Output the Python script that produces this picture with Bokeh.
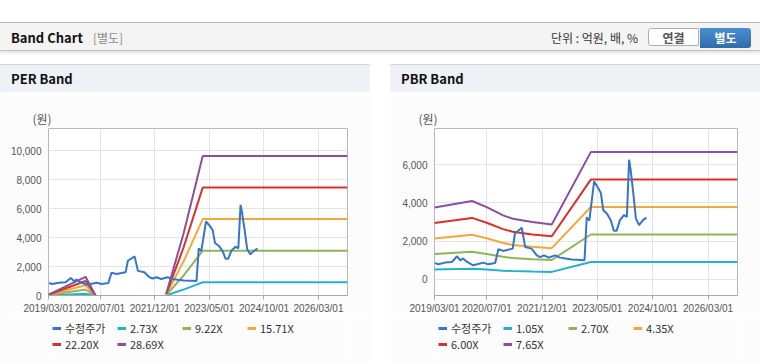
import pandas as pd
import numpy as np
from bokeh.plotting import figure
from bokeh.models import (Div, Legend, LegendItem, FixedTicker, DatetimeTickFormatter,
                          NumeralTickFormatter, Range1d, Title, Spacer)
from bokeh.layouts import column, row
from bokeh.embed import file_html
from bokeh.resources import INLINE

# ---------------- data ----------------
price_dates = ["2019-03-07", "2019-04-07", "2019-06-07", "2019-08-10", "2019-09-28", "2019-10-28",
               "2019-11-21", "2019-12-28", "2020-02-25", "2020-04-01", "2020-06-01", "2020-07-15",
               "2020-09-18", "2020-10-18", "2020-12-03", "2021-03-01", "2021-03-22", "2021-05-25",
               "2021-06-25", "2021-08-25", "2021-10-12", "2021-11-12", "2021-12-18", "2022-02-01",
               "2022-04-01", "2022-05-18", "2022-07-06", "2022-09-06", "2023-01-01", "2023-01-22",
               "2023-02-15", "2023-04-01", "2023-05-10", "2023-06-03", "2023-06-25", "2023-08-01",
               "2023-09-03", "2023-10-03", "2023-10-28", "2023-11-28", "2024-01-06", "2024-02-01",
               "2024-02-22", "2024-03-07", "2024-04-01", "2024-04-25", "2024-05-25", "2024-07-01",
               "2024-08-01"]
price_values = [860, 790, 880, 910, 1210, 1000,
                1090, 930, 740, 790, 880, 790,
                860, 1580, 1490, 1610, 2400, 2700,
                1700, 1610, 1260, 1170, 1260, 1140,
                1260, 1140, 1090, 1040, 1000, 3250,
                3070, 5120, 4770, 4510, 3630, 3420,
                3100, 2540, 2540, 3100, 3370, 3260,
                6260, 5740, 4510, 3190, 2840, 3100,
                3230]

# PER band: EPS (NaN = no band)
per_dates = ["2019-03-01", "2020-02-15", "2020-05-20", "2020-06-01",
             "2022-03-20", "2022-09-01", "2023-01-01", "2023-03-01", "2026-12-01"]
per_eps = [2, 45, 0, np.nan, 4, 150, 275, 336, 336]
per_multiples = [2.73, 9.22, 15.71, 22.20, 28.69]
per_labels = ["2.73X", "9.22X", "15.71X", "22.20X", "28.69X"]

# PBR band: BPS
pbr_dates = ["2019-03-01", "2020-02-15", "2020-07-01", "2020-12-01", "2021-03-01",
             "2021-09-01", "2022-03-01", "2023-03-01", "2026-12-01"]
pbr_bps = [492, 536, 494, 438, 415, 392, 376, 870, 870]
pbr_multiples = [1.05, 2.70, 4.35, 6.00, 7.65]
pbr_labels = ["1.05X", "2.70X", "4.35X", "6.00X", "7.65X"]

price_label = "수정주가"
x_tick_labels = ["2019/03/01", "2020/07/01", "2021/12/01", "2023/05/01", "2024/10/01", "2026/03/01"]
x_start, x_end = "2019-03-01", "2026-12-01"
per_y_ticks = [0, 2000, 4000, 6000, 8000, 10000]
pbr_y_ticks = [0, 2000, 4000, 6000]

price_color = "#3775c8"
band_colors = ["#23b3c8", "#8fb55a", "#f4a83a", "#d8302a", "#8d4f9c"]

NUM_FONT = "Liberation Sans"
KR_FONT = "Noto Sans CJK KR"
BODY_BG = "#fcfcfc"


def make_chart(base_dates, base_vals, mults, y_ticks, y_lo, y_hi, border_left):
    p = figure(width=370, height=225, x_axis_type="datetime", output_backend="svg",
               toolbar_location=None,
               x_range=Range1d(pd.Timestamp(x_start), pd.Timestamp(x_end)),
               y_range=Range1d(y_lo, y_hi),
               min_border_left=border_left, min_border_right=23, min_border_top=35,
               min_border_bottom=23,
               background_fill_color="#ffffff", border_fill_color=BODY_BG,
               outline_line_color="#b8b8b8")
    p.title = Title(text="(원)", align="left", offset=-16, standoff=3,
                    text_font=KR_FONT, text_font_size="12px", text_font_style="normal",
                    text_color="#555555")

    bd = pd.to_datetime(base_dates)
    base = np.array(base_vals, dtype=float)
    for m, col in zip(mults, band_colors):
        p.line(bd, base * m, line_color=col, line_width=2)
    p.line(pd.to_datetime(price_dates), price_values, line_color=price_color, line_width=2)

    ticks = [int(t.value // 10**6) for t in pd.to_datetime(x_tick_labels, format="%Y/%m/%d")]
    p.xaxis.ticker = FixedTicker(ticks=ticks)
    p.xaxis.formatter = DatetimeTickFormatter(days="%Y/%m/%d", months="%Y/%m/%d",
                                              years="%Y/%m/%d")
    p.yaxis.ticker = FixedTicker(ticks=y_ticks)
    p.yaxis.formatter = NumeralTickFormatter(format="0,0")

    p.xaxis.axis_line_color = "#a8a8a8"
    p.xaxis.major_tick_line_color = "#a8a8a8"
    p.xaxis.major_tick_out = 4
    p.xaxis.major_tick_in = 0
    p.xaxis.minor_tick_line_color = None
    p.xaxis.major_label_standoff = 3
    p.xaxis.major_label_text_font = NUM_FONT
    p.xaxis.major_label_text_font_size = "10px"
    p.xaxis.major_label_text_color = "#555555"

    p.yaxis.axis_line_color = None
    p.yaxis.major_tick_line_color = None
    p.yaxis.minor_tick_line_color = None
    p.yaxis.major_tick_out = 0
    p.yaxis.major_tick_in = 0
    p.yaxis.major_label_standoff = 7
    p.yaxis.major_label_text_font = NUM_FONT
    p.yaxis.major_label_text_font_size = "10px"
    p.yaxis.major_label_text_color = "#555555"

    p.xgrid.grid_line_color = "#e4e4e4"
    p.ygrid.grid_line_color = "#e4e4e4"
    return p


def make_legend_fig(labels):
    lf = figure(width=370, height=44, output_backend="svg", toolbar_location=None,
                x_axis_location=None, y_axis_location=None,
                x_range=Range1d(0, 1), y_range=Range1d(0, 1),
                min_border=0, outline_line_color=None,
                background_fill_color=BODY_BG, border_fill_color=BODY_BG)
    lf.grid.visible = False
    items = []
    # legend keys only: no visible points
    r = lf.line(x=[np.nan], y=[np.nan], line_color=price_color, line_width=3)
    items.append(LegendItem(label=price_label, renderers=[r]))
    for lab, col in zip(labels, band_colors):
        r = lf.line(x=[np.nan], y=[np.nan], line_color=col, line_width=3)
        items.append(LegendItem(label=lab, renderers=[r]))
    legend = Legend(items=items, orientation="horizontal", ncols=4, location=(4, 10),
                    margin=0, padding=0, spacing=-3, glyph_width=9, glyph_height=12,
                    label_width=52, label_height=12, label_standoff=4,
                    label_text_font=KR_FONT, label_text_font_size="11px",
                    label_text_color="#333333", border_line_color=None,
                    background_fill_alpha=0)
    lf.add_layout(legend)
    return lf


per_plot = make_chart(per_dates, per_eps, per_multiples, per_y_ticks, 0, 11530, 48)
pbr_plot = make_chart(pbr_dates, pbr_bps, pbr_multiples, pbr_y_ticks, -840, 7890, 44)
per_leg = make_legend_fig(per_labels)
pbr_leg = make_legend_fig(pbr_labels)

header_html = """
<div style="width:760px;height:64px;position:relative;font-family:'Noto Sans CJK KR',sans-serif;">
 <div style="position:absolute;left:0;top:22px;width:760px;height:29px;background:#f4f4f4;border-top:1px solid #b2b2b2;border-bottom:1px solid #c6c6c6;box-shadow:0 2px 3px rgba(0,0,0,0.12);"></div>
 <div style="position:absolute;left:11px;top:23px;height:29px;line-height:29px;font-size:13px;font-weight:bold;color:#111;white-space:nowrap;">Band Chart<span style="font-weight:normal;color:#8a8a8a;font-size:12px;margin-left:10px;">[별도]</span></div>
 <div style="position:absolute;left:551px;top:23px;height:29px;line-height:29px;font-size:12px;color:#333;white-space:nowrap;">단위 : 억원, 배, %</div>
 <div style="position:absolute;left:648px;top:28px;width:51px;height:18px;border:1px solid #aeaeae;border-radius:3px 0 0 3px;background:#fff;color:#555;font-size:12px;font-weight:bold;text-align:center;line-height:18px;">연결</div>
 <div style="position:absolute;left:700px;top:28px;width:51px;height:20px;border-radius:0 3px 3px 0;background:linear-gradient(#4a8fd0,#2f6cae);color:#fff;font-size:12px;font-weight:bold;text-align:center;line-height:20px;">별도</div>
</div>
"""
header = Div(text=header_html, width=760, height=64, margin=0)


def panel_header(txt):
    html = ('<div style="width:370px;height:28px;border-top:1px solid #d6d6d6;background:#eef2f7;'
            'font-family:\'Noto Sans CJK KR\',sans-serif;font-size:13px;font-weight:bold;color:#111;'
            'line-height:28px;"><span style="margin-left:11px;">%s</span></div>' % txt)
    return Div(text=html, width=370, height=29, margin=0)


def bottom_line():
    return Div(text='<div style="width:370px;height:1px;background:#d8d8d8;"></div>',
               width=370, height=1, margin=0)


left = column(panel_header("PER Band"), per_plot, per_leg, bottom_line(), spacing=0)
right = column(panel_header("PBR Band"), pbr_plot, pbr_leg, bottom_line(), spacing=0)
root = column(header, row(left, Spacer(width=20, height=10), right, spacing=0), spacing=0)

open("out.html", "w").write(file_html(root, INLINE))
